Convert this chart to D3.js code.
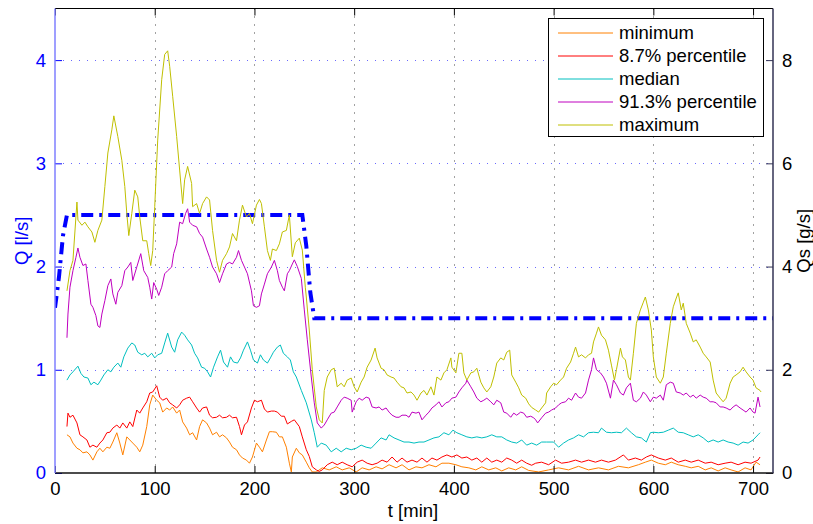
<!DOCTYPE html>
<html><head><meta charset="utf-8">
<script src="https://cdn.jsdelivr.net/npm/d3@7"></script>
<style>
html,body{margin:0;padding:0;background:#fff;}
svg{display:block;font-family:"Liberation Sans",Arial,Helvetica,sans-serif;}
</style></head>
<body><svg id="chart" width="813" height="524"></svg>
<script>
// ---------- data ----------
const xTicks = [0,100,200,300,400,500,600,700];
const leftTicks = [0,1,2,3,4];
const rightTicks = [0,2,4,6,8];
const seriesNames = ["minimum","8.7% percentile","median","91.3% percentile","maximum"];
const seriesColors = ["#ff8000","#ff0000","#00bfbf","#bf00bf","#bfbf00"];

// discharge Q [l/s] (left axis)
const flowT = [0,4,8,12,248,252,256,260,720];
const flowQ = [1.6,1.9,2.3,2.5,2.5,2.2,1.75,1.5,1.5];

// sediment transport Qs [g/s] (right axis): [t, value]
const minimum = [[12,0.74],[15,0.7],[18,0.58],[22,0.48],[25,0.45],[28,0.39],[32,0.41],[35,0.35],[38,0.25],[42,0.41],[45,0.48],[48,0.41],[52,0.5],[55,0.48],[58,0.6],[62,0.78],[65,0.58],[68,0.35],[72,0.7],[75,0.64],[78,0.58],[82,0.5],[85,0.41],[88,0.54],[92,0.9],[95,1.32],[98,1.51],[102,1.41],[105,1.36],[108,1.18],[112,1.26],[115,1.22],[118,1.28],[122,1.16],[125,1.22],[128,0.99],[132,0.87],[135,0.74],[138,0.78],[142,0.64],[145,0.9],[148,1.03],[152,0.97],[155,0.87],[158,0.74],[162,0.79],[165,0.7],[168,0.74],[172,0.68],[175,0.6],[178,0.5],[182,0.45],[185,0.35],[188,0.29],[192,0.25],[195,0.19],[198,0.31],[202,0.58],[205,0.5],[208,0.41],[212,0.64],[215,0.8],[218,0.8],[222,0.79],[225,0.7],[228,0.7],[232,0.5],[235,0.19],[237,0.02],[238,0.31],[242,0.48],[245,0.39],[248,0.35],[252,0.21],[255,0.1],[258,0.02],[262,0.02],[268,0.1],[275,0.06],[282,0.12],[288,0.06],[295,0.1],[302,0.02],[308,0.1],[315,0.06],[322,0.12],[328,0.08],[335,0.16],[342,0.1],[348,0.16],[355,0.06],[362,0.12],[368,0.1],[375,0.16],[382,0.12],[388,0.19],[395,0.19],[402,0.16],[408,0.12],[415,0.1],[422,0.06],[428,0.12],[435,0.06],[442,0.1],[448,0.04],[455,0.1],[462,0.06],[468,0.12],[475,0.05],[485,0.02],[495,0.06],[505,0.1],[515,0.06],[525,0.13],[535,0.06],[545,0.1],[555,0.06],[565,0.13],[575,0.1],[585,0.16],[592,0.21],[598,0.25],[605,0.19],[612,0.16],[618,0.21],[625,0.16],[632,0.13],[638,0.1],[645,0.13],[652,0.06],[658,0.1],[665,0.04],[672,0.1],[678,0.06],[685,0.02],[692,0.1],[698,0.06],[703,0.21],[707,0.16]];

const p087 = [[12,0.9],[13,1.16],[15,1.08],[18,1.12],[22,0.97],[25,0.74],[28,0.7],[32,0.64],[35,0.5],[38,0.54],[42,0.5],[45,0.58],[48,0.64],[52,0.78],[55,0.79],[58,0.87],[62,0.93],[65,0.87],[68,0.97],[72,0.87],[75,0.99],[78,0.9],[82,1.22],[85,1.16],[88,1.26],[92,1.38],[95,1.55],[98,1.57],[102,1.69],[105,1.47],[108,1.41],[112,1.45],[115,1.36],[118,1.32],[122,1.26],[125,1.32],[128,1.41],[132,1.45],[135,1.47],[138,1.38],[142,1.26],[145,1.18],[148,1.26],[152,1.28],[155,1.12],[158,1.07],[162,1.08],[165,1.12],[168,1.07],[172,1.08],[175,1.12],[178,1.07],[182,1.08],[185,0.9],[187,0.74],[190,0.93],[193,0.99],[197,1.26],[200,1.41],[203,1.38],[207,1.41],[210,1.24],[213,1.18],[217,1.2],[220,1.2],[223,1.18],[227,1.1],[230,1.1],[233,0.95],[237,1.0],[240,1.03],[245,0.9],[248,0.7],[252,0.45],[255,0.32],[258,0.12],[262,0.06],[265,0.03],[268,0.06],[273,0.16],[278,0.21],[283,0.16],[288,0.21],[293,0.16],[298,0.12],[303,0.21],[308,0.25],[313,0.19],[318,0.16],[323,0.19],[328,0.25],[333,0.21],[338,0.31],[343,0.21],[348,0.29],[353,0.21],[358,0.25],[363,0.21],[368,0.29],[373,0.21],[378,0.29],[383,0.25],[388,0.31],[393,0.35],[398,0.31],[403,0.35],[408,0.29],[413,0.31],[418,0.25],[423,0.29],[428,0.21],[433,0.29],[438,0.21],[443,0.25],[448,0.21],[453,0.29],[458,0.25],[463,0.19],[468,0.25],[473,0.19],[478,0.15],[482,0.19],[488,0.21],[495,0.16],[502,0.25],[508,0.19],[515,0.21],[522,0.25],[528,0.21],[535,0.25],[542,0.21],[548,0.25],[555,0.21],[562,0.25],[570,0.35],[575,0.25],[582,0.29],[588,0.25],[593,0.31],[598,0.35],[605,0.29],[612,0.25],[618,0.29],[625,0.21],[632,0.25],[638,0.21],[645,0.25],[652,0.19],[658,0.21],[665,0.16],[672,0.19],[678,0.21],[685,0.16],[692,0.21],[698,0.19],[705,0.25],[707,0.31]];

const median = [[12,1.8],[15,1.9],[18,1.96],[23,2.07],[26,1.93],[29,1.86],[33,1.84],[36,1.71],[39,1.76],[43,1.71],[46,1.8],[49,1.9],[53,2.0],[56,1.96],[59,2.05],[63,2.13],[66,2.05],[69,2.25],[73,2.42],[77,2.52],[80,2.48],[83,2.34],[87,2.29],[90,2.32],[93,2.25],[97,2.32],[100,2.23],[103,2.29],[107,2.32],[110,2.52],[113,2.71],[117,2.44],[120,2.34],[123,2.58],[127,2.73],[130,2.67],[133,2.58],[137,2.48],[140,2.32],[143,2.23],[147,2.05],[150,2.03],[153,1.96],[156,1.86],[159,2.05],[163,2.25],[166,2.38],[169,2.15],[173,2.05],[176,2.25],[179,2.15],[183,2.13],[186,2.23],[189,2.38],[193,2.54],[196,2.38],[199,2.19],[203,2.13],[206,2.29],[209,2.19],[213,2.13],[216,2.23],[219,2.34],[223,2.44],[226,2.48],[229,2.32],[233,2.25],[236,2.19],[239,1.96],[242,1.86],[247,1.6],[252,1.36],[257,1.03],[260,0.78],[263,0.5],[267,0.58],[272,0.54],[277,0.41],[282,0.48],[287,0.41],[292,0.48],[297,0.45],[302,0.48],[307,0.54],[312,0.5],[317,0.48],[322,0.58],[327,0.68],[332,0.64],[335,0.74],[340,0.68],[345,0.64],[350,0.6],[355,0.6],[360,0.58],[365,0.6],[370,0.6],[375,0.64],[380,0.68],[385,0.7],[390,0.78],[395,0.74],[399,0.83],[403,0.78],[408,0.74],[413,0.7],[418,0.68],[423,0.7],[428,0.68],[433,0.7],[438,0.74],[443,0.7],[448,0.7],[453,0.64],[458,0.6],[463,0.58],[468,0.64],[473,0.54],[478,0.58],[483,0.54],[488,0.6],[493,0.6],[500,0.6],[505,0.5],[510,0.58],[515,0.64],[520,0.68],[525,0.74],[530,0.7],[535,0.78],[540,0.79],[545,0.78],[548,0.87],[553,0.79],[558,0.78],[563,0.79],[568,0.78],[573,0.87],[578,0.78],[583,0.7],[588,0.68],[593,0.6],[597,0.78],[600,0.79],[605,0.78],[610,0.79],[615,0.83],[620,0.87],[625,0.79],[630,0.78],[635,0.74],[640,0.7],[645,0.74],[650,0.68],[655,0.6],[660,0.64],[665,0.6],[670,0.64],[675,0.6],[680,0.58],[685,0.54],[690,0.6],[695,0.58],[700,0.64],[705,0.74],[707,0.78]];

const p913 = [[12,2.62],[13,3.08],[15,3.6],[18,3.92],[21,4.18],[23,4.36],[25,4.18],[28,4.02],[31,4.05],[33,3.73],[36,3.27],[38,3.21],[41,3.05],[43,2.85],[45,2.82],[47,3.08],[50,3.34],[53,3.63],[56,3.76],[58,3.47],[61,3.27],[63,3.5],[67,3.63],[70,3.92],[73,3.99],[76,4.08],[78,3.73],[82,3.99],[86,4.25],[89,3.92],[93,3.79],[95,3.6],[97,3.37],[99,3.69],[102,3.56],[104,3.44],[107,3.6],[110,3.86],[113,3.92],[117,3.99],[119,4.25],[122,4.44],[125,4.86],[128,4.83],[131,5.03],[133,5.12],[135,4.86],[138,4.8],[142,4.77],[145,4.64],[148,4.57],[152,4.34],[155,4.18],[158,3.99],[162,3.86],[165,3.69],[168,3.86],[172,4.05],[175,4.08],[178,4.05],[182,4.18],[184,4.31],[187,4.12],[190,3.99],[193,3.86],[197,3.53],[199,3.24],[202,3.21],[205,3.24],[207,3.47],[210,3.66],[213,3.86],[217,3.99],[220,4.12],[223,3.92],[225,3.73],[228,3.6],[230,3.53],[233,3.86],[235,3.92],[238,4.05],[240,4.13],[243,4.0],[247,3.77],[250,3.16],[253,2.58],[257,1.86],[260,1.36],[263,0.97],[267,0.87],[270,0.93],[273,1.03],[277,1.16],[280,1.18],[283,1.28],[287,1.41],[290,1.47],[293,1.45],[297,1.41],[298,1.18],[302,1.38],[305,1.45],[308,1.41],[312,1.47],[315,1.45],[318,1.28],[322,1.26],[325,1.28],[328,1.22],[332,1.26],[335,1.18],[338,1.12],[342,1.08],[345,1.08],[348,1.12],[352,1.12],[355,1.08],[358,1.18],[362,1.16],[365,1.18],[368,1.03],[372,1.12],[375,1.18],[378,1.26],[382,1.32],[385,1.38],[388,1.28],[392,1.36],[395,1.38],[398,1.45],[402,1.47],[405,1.57],[408,1.65],[412,1.74],[413,1.8],[417,1.67],[420,1.57],[423,1.45],[427,1.38],[430,1.41],[433,1.45],[437,1.38],[440,1.32],[443,1.41],[447,1.36],[450,1.18],[453,1.16],[457,1.08],[460,1.16],[463,1.12],[467,1.18],[470,1.16],[473,1.08],[477,1.1],[480,1.07],[482,1.03],[484,0.97],[488,1.07],[492,1.16],[495,1.18],[498,1.22],[502,1.26],[505,1.32],[508,1.36],[512,1.38],[515,1.45],[518,1.41],[522,1.55],[525,1.47],[528,1.45],[532,1.55],[535,1.8],[538,2.0],[540,2.23],[543,2.0],[547,1.94],[550,1.86],[553,1.74],[557,1.45],[560,1.8],[563,1.71],[567,1.55],[570,1.51],[573,1.65],[577,1.74],[580,1.41],[583,1.38],[587,1.45],[590,1.57],[593,1.51],[597,1.38],[600,1.47],[603,1.45],[607,1.51],[610,1.41],[613,1.71],[617,1.76],[620,1.74],[623,1.57],[627,1.55],[630,1.51],[633,1.55],[637,1.47],[640,1.51],[643,1.45],[647,1.51],[650,1.47],[653,1.45],[657,1.38],[660,1.38],[663,1.36],[667,1.28],[670,1.28],[673,1.26],[677,1.22],[680,1.28],[683,1.32],[687,1.26],[690,1.22],[693,1.18],[697,1.26],[700,1.18],[702,1.16],[705,1.47],[707,1.28]];

const maximum = [[12,3.53],[15,3.92],[18,4.12],[22,5.25],[23,4.9],[27,4.8],[30,4.86],[33,4.77],[37,4.67],[40,4.47],[43,4.7],[47,4.9],[50,5.55],[53,6.2],[57,6.65],[59,6.92],[63,6.52],[67,6.06],[70,5.55],[72,5.03],[74,4.6],[77,5.03],[80,5.48],[83,5.35],[85,4.96],[88,4.5],[92,4.5],[94,4.25],[96,4.02],[98,4.31],[100,5.16],[103,6.45],[107,7.62],[110,8.11],[113,8.18],[115,7.88],[118,7.3],[122,6.52],[125,5.87],[128,5.22],[130,5.68],[133,5.94],[137,5.61],[138,5.16],[142,5.22],[145,5.03],[148,5.22],[152,5.35],[155,5.29],[158,4.7],[162,4.12],[165,3.89],[168,4.12],[172,4.25],[175,4.38],[178,4.64],[182,4.5],[185,4.9],[188,5.19],[192,4.96],[195,5.03],[198,4.83],[202,5.19],[205,5.3],[207,5.22],[210,4.77],[213,4.31],[216,4.12],[218,4.34],[222,4.31],[225,4.44],[228,4.67],[232,4.7],[235,5.0],[238,4.19],[241,4.46],[245,4.55],[248,4.32],[251,3.6],[252,3.41],[255,2.77],[258,2.0],[262,1.28],[265,1.03],[268,0.97],[270,1.6],[273,1.86],[277,2.0],[280,2.03],[283,1.67],[287,1.74],[290,1.67],[293,1.8],[297,1.84],[300,1.67],[303,1.57],[307,1.76],[310,1.86],[313,2.05],[317,2.19],[321,2.42],[323,2.23],[327,2.03],[330,2.0],[333,1.9],[337,1.86],[340,1.84],[343,1.76],[347,1.67],[350,1.65],[353,1.55],[357,1.57],[360,1.51],[363,1.41],[367,1.55],[370,1.6],[373,1.51],[377,1.67],[380,1.51],[383,1.86],[387,1.8],[390,1.94],[393,2.0],[397,2.23],[398,2.05],[402,1.94],[405,2.32],[408,2.32],[410,1.94],[413,1.8],[417,1.94],[420,1.96],[423,2.03],[427,1.76],[430,1.65],[433,1.57],[437,1.67],[440,1.86],[443,2.13],[447,2.23],[450,2.19],[453,2.34],[456,2.38],[458,1.9],[462,1.76],[465,1.65],[468,1.51],[472,1.45],[475,1.34],[478,1.27],[482,1.22],[485,1.18],[488,1.26],[492,1.36],[493,1.55],[497,1.67],[500,1.74],[503,1.71],[507,1.8],[510,1.86],[513,2.03],[517,2.15],[520,2.32],[522,2.44],[525,2.25],[528,2.29],[532,2.23],[535,2.29],[538,2.32],[540,2.54],[543,2.71],[545,2.83],[548,2.67],[552,2.58],[555,2.38],[558,2.09],[561,1.8],[563,2.0],[567,2.42],[569,2.25],[572,2.19],[575,1.86],[577,1.8],[580,2.32],[583,2.9],[587,3.16],[590,3.31],[592,3.41],[595,3.16],[598,2.77],[600,2.25],[603,1.86],[607,1.74],[610,1.86],[613,2.32],[617,2.9],[620,3.22],[623,3.39],[625,3.49],[628,3.16],[630,3.29],[633,2.9],[637,2.71],[640,2.54],[643,2.58],[647,2.44],[650,2.32],[653,2.25],[657,2.15],[660,1.8],[663,1.55],[667,1.45],[670,1.38],[673,1.45],[677,1.74],[680,1.86],[683,1.9],[687,1.96],[690,2.05],[693,1.96],[697,1.86],[700,1.8],[703,1.65],[707,1.6],[708,1.57]];

const seriesData = [minimum, p087, median, p913, maximum];

// ---------- layout ----------
const svg = d3.select("#chart");
const L = 55, R = 773, T = 8.5, B = 473;
const x = d3.scaleLinear().domain([0,720]).range([L,R]);
const yL = d3.scaleLinear().domain([0,4.5]).range([B,T]);
const yR = d3.scaleLinear().domain([0,9]).range([B,T]);
const FS = 18.5;

svg.append("defs").append("clipPath").attr("id","clip")
  .append("rect").attr("x",L).attr("y",T).attr("width",R-L).attr("height",B-T);

// grid
const grid = svg.append("g");
grid.selectAll("line.v").data(xTicks.filter(d=>d>0)).join("line")
  .attr("x1",d=>Math.round(x(d))+0.5).attr("x2",d=>Math.round(x(d))+0.5)
  .attr("y1",T).attr("y2",B)
  .attr("stroke","#444").attr("stroke-width",1).attr("stroke-dasharray","1,7");
grid.selectAll("line.h").data(leftTicks.filter(d=>d>0)).join("line")
  .attr("x1",L).attr("x2",R)
  .attr("y1",d=>Math.round(yL(d))+0.5).attr("y2",d=>Math.round(yL(d))+0.5)
  .attr("stroke","#6a6aff").attr("stroke-width",1).attr("stroke-dasharray","1,7");

// discharge line
const plot = svg.append("g").attr("clip-path","url(#clip)");
plot.append("path")
  .datum(flowT.map((t,i)=>[t,flowQ[i]]))
  .attr("fill","none").attr("stroke","#0000ff").attr("stroke-width",4)
  .attr("stroke-dasharray","12,6,3,6")
  .attr("d", d3.line().x(d=>x(d[0])).y(d=>yL(d[1])));

// series
seriesData.forEach((s,i)=>{
  plot.append("path").datum(s)
    .attr("fill","none").attr("stroke",seriesColors[i]).attr("stroke-width",1)
    .attr("stroke-linejoin","round")
    .attr("d", d3.line().x(d=>x(d[0])).y(d=>yR(d[1])));
});

// axes
function style(g, color){
  g.selectAll("text").attr("fill",color).style("font-size",FS+"px")
   .style("font-family","'Liberation Sans',Arial,sans-serif");
  g.selectAll("line").attr("stroke",color);
  g.select(".domain").remove();
}
const fmt = d3.format("d");
const xa = svg.append("g").attr("transform",`translate(0,${B})`)
  .call(d3.axisBottom(x).tickValues(xTicks).tickFormat(fmt).tickSizeInner(-7).tickSizeOuter(0).tickPadding(9));
style(xa,"#000");
const xt = svg.append("g").attr("transform",`translate(0,${T})`)
  .call(d3.axisTop(x).tickValues(xTicks).tickSizeInner(-7).tickSizeOuter(0).tickFormat(""));
style(xt,"#000");
const yla = svg.append("g").attr("transform",`translate(${L},0)`)
  .call(d3.axisLeft(yL).tickValues(leftTicks).tickFormat(fmt).tickSizeInner(-7).tickSizeOuter(0).tickPadding(9));
style(yla,"#0000ff");
const yra = svg.append("g").attr("transform",`translate(${R},0)`)
  .call(d3.axisRight(yR).tickValues(rightTicks).tickFormat(fmt).tickSizeInner(-7).tickSizeOuter(0).tickPadding(9));
style(yra,"#000");
yra.selectAll("line").attr("stroke","#333355");

// frame
svg.append("line").attr("x1",L).attr("x2",R).attr("y1",T).attr("y2",T).attr("stroke","#000").attr("stroke-width",1);
svg.append("line").attr("x1",L).attr("x2",R+0.5).attr("y1",B).attr("y2",B).attr("stroke","#111").attr("stroke-width",1.5);
svg.append("line").attr("x1",L).attr("x2",L).attr("y1",T).attr("y2",B).attr("stroke","#7f7fff").attr("stroke-width",1.5);
svg.append("line").attr("x1",R).attr("x2",R).attr("y1",T).attr("y2",B).attr("stroke","#333355").attr("stroke-width",1.5);

// axis titles
svg.append("text").attr("x",413).attr("y",517).attr("text-anchor","middle")
  .attr("fill","#000").style("font-size",FS+"px").text("t [min]");
svg.append("text").attr("transform",`translate(28,${(T+B)/2}) rotate(-90)`).attr("text-anchor","middle")
  .attr("fill","#0000ff").style("font-size",FS+"px").text("Q [l/s]");
svg.append("text").attr("transform",`translate(810,${(T+B)/2}) rotate(-90)`).attr("text-anchor","middle")
  .attr("fill","#000").style("font-size",FS+"px").text("Qs [g/s]");

// legend
const lg = svg.append("g");
lg.append("rect").attr("x",548.5).attr("y",18.5).attr("width",215).attr("height",118)
  .attr("fill","#fff").attr("stroke","#000").attr("stroke-width",1);
seriesNames.forEach((n,i)=>{
  const yy = 33 + i*23;
  lg.append("line").attr("x1",558).attr("x2",613).attr("y1",yy).attr("y2",yy)
    .attr("stroke",seriesColors[i]).attr("stroke-width",1);
  lg.append("text").attr("x",619).attr("y",yy).attr("dy","0.35em")
    .attr("fill","#000").style("font-size",FS+"px").text(n);
});
</script></body></html>
